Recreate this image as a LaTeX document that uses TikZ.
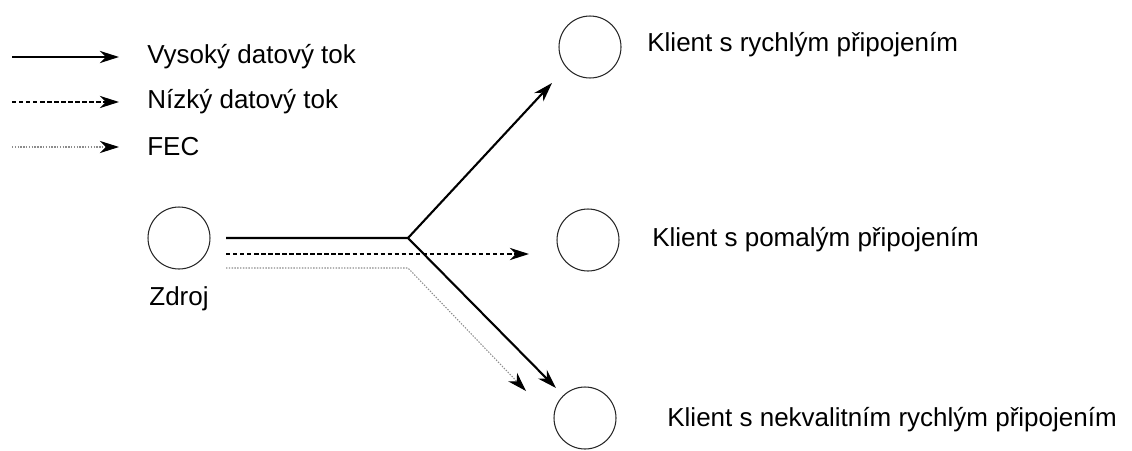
\documentclass[tikz,border=0pt]{standalone}
\usepackage{fontspec}
\setmainfont{Liberation Sans}
\usetikzlibrary{arrows.meta}

\begin{document}
\begin{tikzpicture}[x=0.02cm,y=-0.02cm,
	host/.style={circle,draw=black!85,line width=0.6pt,minimum size=1.24cm,inner sep=0pt},
	lbl/.style={anchor=west,inner sep=0pt,font=\fontsize{14.8}{18}\selectfont},
	tip/.style={-{Stealth[length=11pt,width=7pt,inset=3.5pt,black]}},
	high/.style={tip,line width=1.2pt},
	low/.style={tip,line width=0.9pt,dash pattern=on 2.5pt off 1.5pt},
	fec/.style={tip,line width=0.6pt,draw=black!45,dash pattern=on 0.8pt off 0.8pt}]
	\useasboundingbox (0,0) rectangle (1132,450);
	% legend
	\coordinate (l_1) at (12,57);  \coordinate (r_1) at (119,57);
	\coordinate (l_2) at (12,102); \coordinate (r_2) at (119,102);
	\coordinate (l_3) at (12,147); \coordinate (r_3) at (119,147);
	\node[lbl] (t_1) at (147,57) {Vysoký datový tok};
	\node[lbl] (t_2) at (147,102) {Nízký datový tok};
	\node[lbl] (t_3) at (147,147) {FEC};
	\draw[high] (l_1) -- (r_1);
	\draw[low] (l_2) -- (r_2);
	\draw[fec] (l_3) -- (r_3);
	% hosts
	\node[host] (src) at (179,238) {};
	\node[lbl,anchor=north] (src_t) at (179,286) {Zdroj};
	\node[host] (c_1) at (590,47) {};
	\node[host] (c_2) at (588,240) {};
	\node[host] (c_3) at (585,418) {};
	\node[lbl] (c_1t) at (647,45) {Klient s rychlým připojením};
	\node[lbl] (c_2t) at (652,240) {Klient s pomalým připojením};
	\node[lbl] (c_3t) at (667,420) {Klient s nekvalitním rychlým připojením};
	% streams
	\coordinate (s_1) at (226,238); \coordinate (split) at (408,238);
	\coordinate (s_2) at (226,254); \coordinate (e_2) at (529,254);
	\coordinate (s_3) at (226,268); \coordinate (bend) at (408,268);
	\coordinate (e_1) at (552,83);
	\coordinate (e_3) at (556,388);
	\coordinate (e_4) at (526,391);
	\draw[high] (s_1) -- (split) -- (e_1);
	\draw[high] (split) -- (e_3);
	\draw[low] (s_2) -- (e_2);
	\draw[fec] (s_3) -- (bend) -- (e_4);
\end{tikzpicture}
\end{document}
